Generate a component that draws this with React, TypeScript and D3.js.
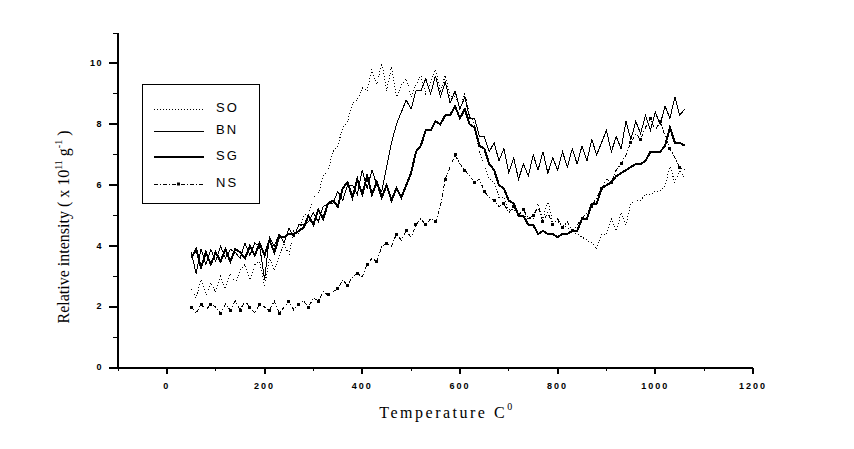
import * as d3 from "d3"

// temperature grid (°C), one reading every 10 degrees
const TEMPS = d3.range(50, 1070, 10)

const SO = [
  2.6, 2.3, 2.9, 2.4, 2.8, 2.5, 3.0, 2.6, 3.1, 2.8,
  3.2, 3.4, 2.9, 3.4, 3.5, 2.7, 3.6, 3.2, 3.7, 4.1,
  3.7, 4.5, 4.4, 5.0, 5.1, 5.6, 5.7, 6.3, 6.5, 7.1,
  7.3, 7.9, 8.1, 8.7, 8.8, 9.2, 9.1, 9.8, 9.3, 10.0,
  9.1, 9.9, 8.9, 9.3, 9.5, 8.9, 9.3, 9.6, 9.0, 9.4,
  9.8, 9.1, 9.6, 8.9, 8.9, 8.5, 9.0, 8.3, 8.0, 7.1,
  6.7, 6.2, 6.1, 5.6, 5.6, 5.2, 5.2, 5.1, 5.0, 4.9,
  4.9, 5.4, 4.9, 5.5, 4.8, 4.8, 4.7, 4.6, 4.5, 4.4,
  4.3, 4.2, 4.1, 3.9, 4.4, 4.4, 4.9, 4.5, 5.1, 4.7,
  5.4, 5.5, 5.5, 5.7, 5.7, 5.8, 5.8, 6.0, 6.6, 6.1,
  6.5, 6.2,
]

const BN = [
  3.8, 3.1, 3.9, 3.4, 3.9, 3.5, 4.0, 3.6, 3.9, 3.8,
  3.6, 4.1, 3.7, 4.1, 4.0, 2.9, 4.3, 4.0, 4.4, 4.1,
  4.6, 4.3, 4.7, 4.7, 4.8, 5.1, 4.8, 5.3, 5.4, 5.4,
  5.8, 5.5, 6.0, 6.0, 5.7, 6.5, 5.9, 6.5, 6.0, 5.8,
  6.6, 7.4, 8.0, 8.4, 8.8, 8.5, 9.1, 9.1, 9.5, 9.0,
  9.6, 8.9, 9.4, 8.7, 9.1, 8.5, 8.9, 8.2, 8.2, 7.6,
  7.6, 7.1, 7.4, 6.8, 7.2, 6.4, 6.9, 6.2, 6.7, 6.3,
  7.0, 6.5, 7.1, 6.4, 6.9, 6.5, 7.1, 6.6, 7.2, 6.7,
  7.3, 6.8, 7.5, 7.0, 7.4, 7.8, 7.1, 7.6, 7.2, 8.1,
  7.5, 8.1, 7.7, 8.3, 7.8, 8.4, 8.0, 8.6, 8.2, 8.9,
  8.3, 8.5,
]

const SG = [
  3.6, 3.9, 3.3, 3.8, 3.4, 3.8, 3.5, 3.9, 3.5, 3.9,
  3.8, 3.6, 4.0, 3.7, 4.1, 3.7, 4.2, 3.8, 4.3, 4.3,
  4.4, 4.4, 4.5, 4.6, 5.0, 4.7, 5.2, 4.9, 5.4, 5.5,
  5.3, 5.9, 6.1, 5.6, 6.2, 5.7, 6.3, 5.7, 6.1, 5.6,
  6.0, 5.5, 5.9, 5.6, 6.0, 6.4, 7.1, 7.3, 7.8, 7.8,
  8.1, 8.0, 8.3, 8.3, 8.6, 8.2, 8.5, 8.0, 7.9, 7.3,
  7.2, 6.7, 6.5, 6.0, 5.9, 5.5, 5.4, 5.0, 5.0, 4.7,
  4.7, 4.4, 4.5, 4.4, 4.4, 4.3, 4.4, 4.4, 4.5, 4.5,
  4.9, 4.9, 5.4, 5.4, 5.9, 6.0, 6.1, 6.3, 6.4, 6.5,
  6.6, 6.7, 6.7, 6.8, 7.1, 7.1, 7.1, 7.3, 7.9, 7.4,
  7.4, 7.3,
]

const NS = [
  2.0, 1.8, 2.1, 1.9, 2.1, 2.0, 1.8, 2.1, 1.9, 2.2,
  1.9, 2.2, 2.0, 1.8, 2.1, 2.0, 1.9, 2.2, 1.8, 2.0,
  2.2, 1.9, 2.1, 2.2, 2.0, 2.3, 2.2, 2.5, 2.4, 2.5,
  2.6, 2.9, 2.7, 3.0, 3.1, 3.0, 3.4, 3.6, 3.5, 4.0,
  4.1, 4.0, 4.4, 4.2, 4.5, 4.3, 4.7, 4.9, 4.7, 4.9,
  4.8, 5.3, 6.2, 6.6, 7.0, 6.7, 6.5, 6.3, 6.1, 6.2,
  5.8, 5.6, 5.5, 5.3, 5.4, 5.1, 5.3, 5.0, 5.2, 4.9,
  5.0, 5.3, 4.8, 5.1, 4.7, 4.9, 4.6, 4.8, 4.5, 4.7,
  4.9, 5.1, 5.3, 5.6, 5.9, 6.2, 6.1, 6.5, 6.7, 7.0,
  7.4, 7.7, 7.5, 7.9, 8.2, 7.8, 8.1, 7.6, 7.2, 6.9,
  6.6, 6.5,
]

const X_TICKS = [0, 200, 400, 600, 800, 1000, 1200]
const Y_TICKS = [0, 2, 4, 6, 8, 10]

const SERIES = [
  { name: "SO", values: SO, width: 1, dash: "1,2", marker: false },
  { name: "BN", values: BN, width: 1, dash: "none", marker: false },
  { name: "SG", values: SG, width: 2, dash: "none", marker: false },
  { name: "NS", values: NS, width: 1, dash: "4,2,1,2", marker: true },
]

const LEGEND_Y = [109, 131, 157, 184]

const PLOT = { left: 118, right: 753, top: 33, bottom: 368 }

export default function App() {
  const x = d3.scaleLinear().domain([-100, 1200]).range([PLOT.left, PLOT.right])
  const y = d3.scaleLinear().domain([0, 11]).range([PLOT.bottom, PLOT.top])

  const line = d3
    .line<number>()
    .x((_, i) => x(TEMPS[i]))
    .y((d) => y(d))

  const minorX = d3.range(-100, 1201, 100).filter((v) => v % 200 !== 0)
  const minorY = d3.range(1, 12, 2)

  return (
    <svg
      width={854}
      height={449}
      style={{ position: "absolute", left: 0, top: 0, background: "#fff" }}
    >
      {/* curves */}
      {SERIES.map((s) => (
        <g key={s.name}>
          <path
            d={line(s.values) ?? ""}
            fill="none"
            stroke="#000"
            strokeWidth={s.width}
            strokeDasharray={s.dash}
            shapeRendering="crispEdges"
          />
          {s.marker &&
            s.values.map((v, i) =>
              i % 2 === 0 ? (
                <rect
                  key={i}
                  x={x(TEMPS[i]) - 1.5}
                  y={y(v) - 1.5}
                  width={3}
                  height={3}
                  fill="#000"
                  shapeRendering="crispEdges"
                />
              ) : null
            )}
        </g>
      ))}

      {/* axes */}
      <g shapeRendering="crispEdges">
        <line x1={PLOT.left} x2={PLOT.left} y1={PLOT.top} y2={PLOT.bottom} stroke="#000" strokeWidth={2} />
        <line x1={PLOT.left} x2={PLOT.right} y1={PLOT.bottom} y2={PLOT.bottom} stroke="#000" strokeWidth={2} />
        {Y_TICKS.map((t) => (
          <line key={t} x1={PLOT.left - 9} x2={PLOT.left} y1={y(t)} y2={y(t)} stroke="#000" strokeWidth={2} />
        ))}
        {minorY.map((t) => (
          <line key={t} x1={PLOT.left - 5} x2={PLOT.left} y1={y(t)} y2={y(t)} stroke="#000" strokeWidth={1} />
        ))}
        {X_TICKS.map((t) => (
          <line key={t} x1={x(t)} x2={x(t)} y1={PLOT.bottom} y2={PLOT.bottom + 6} stroke="#000" strokeWidth={2} />
        ))}
        {minorX.map((t) => (
          <line key={t} x1={x(t)} x2={x(t)} y1={PLOT.bottom} y2={PLOT.bottom + 3} stroke="#000" strokeWidth={1} />
        ))}
      </g>

      {Y_TICKS.map((t) => (
        <text
          key={t}
          x={103}
          y={y(t)}
          textAnchor="end"
          dominantBaseline="middle"
          fontFamily="Liberation Sans, Arial, sans-serif"
          fontWeight="bold"
          fontSize={9}
          letterSpacing={1.5}
        >
          {t}
        </text>
      ))}
      {X_TICKS.map((t) => (
        <text
          key={t}
          x={x(t)}
          y={387}
          textAnchor="middle"
          dominantBaseline="middle"
          fontFamily="Liberation Sans, Arial, sans-serif"
          fontWeight="bold"
          fontSize={9}
          letterSpacing={2}
        >
          {t}
        </text>
      ))}

      {/* axis titles */}
      <text
        x={447}
        y={418}
        textAnchor="middle"
        fontFamily="Liberation Serif, Times New Roman, serif"
        fontSize={16}
        letterSpacing={2.5}
      >
        Temperature C
        <tspan dy={-8} fontSize={10}>0</tspan>
      </text>
      <text
        transform="translate(69,227) rotate(-90)"
        textAnchor="middle"
        fontFamily="Liberation Serif, Times New Roman, serif"
        fontSize={16}
      >
        Relative intensity ( x 10
        <tspan dy={-7} fontSize={10}>11</tspan>
        <tspan dy={7}> g</tspan>
        <tspan dy={-7} fontSize={10}>-1</tspan>
        <tspan dy={7}> )</tspan>
      </text>

      {/* legend */}
      <rect x={142} y={84} width={117} height={119} fill="#fff" stroke="#000" strokeWidth={1} shapeRendering="crispEdges" />
      {SERIES.map((s, i) => (
        <g key={s.name}>
          <line
            x1={154}
            x2={204}
            y1={LEGEND_Y[i]}
            y2={LEGEND_Y[i]}
            stroke="#000"
            strokeWidth={s.width}
            strokeDasharray={s.dash}
            shapeRendering="crispEdges"
          />
          {s.marker && <rect x={177} y={LEGEND_Y[i] - 1.5} width={3} height={3} fill="#000" />}
          <text
            x={216}
            y={LEGEND_Y[i]}
            dominantBaseline="middle"
            fontFamily="Liberation Sans, Arial, sans-serif"
            fontSize={13}
            letterSpacing={2}
          >
            {s.name}
          </text>
        </g>
      ))}
    </svg>
  )
}
